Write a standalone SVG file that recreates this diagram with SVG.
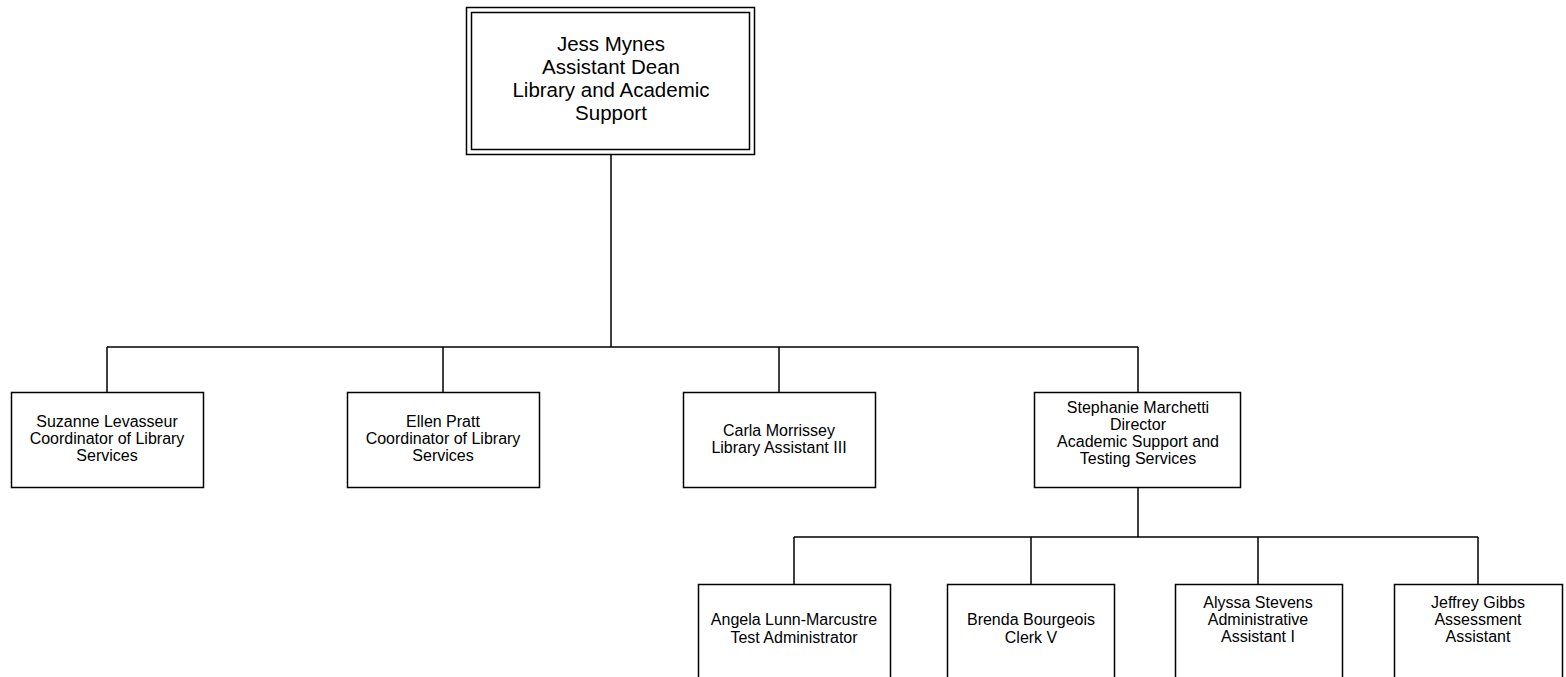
<svg xmlns="http://www.w3.org/2000/svg" width="1566" height="677" viewBox="0 0 1566 677">
<style>
.box{fill:#fff;stroke:#000;stroke-width:1.5}
.ln{fill:none;stroke:#000;stroke-width:1.5}
text{font-family:"Liberation Sans",Arial,sans-serif;font-size:16px;fill:#000;text-anchor:middle}
.big{font-size:20.5px}
</style>
<rect width="1566" height="677" fill="#fff"/>
<g id="connectors">
<path class="ln" d="M611 155V347M107 347H1138M107 347V392M443 347V392M779 347V392M1138 347V392"/>
<path class="ln" d="M1138 487V537M794 537H1478M794 537V584M1031 537V584M1258 537V584M1478 537V584"/>
</g>
<g id="n-jess">
<rect class="box" x="466.5" y="7.5" width="288" height="147"/>
<rect class="box" x="471.5" y="12.5" width="278" height="137"/>
<text class="big" x="611" y="51">Jess Mynes</text>
<text class="big" x="611" y="74">Assistant Dean</text>
<text class="big" x="611" y="97">Library and Academic</text>
<text class="big" x="611" y="120">Support</text>
</g>
<g id="n-suzanne">
<rect class="box" x="11.5" y="392.5" width="192" height="95"/>
<text x="107" y="427">Suzanne Levasseur</text>
<text x="107" y="444">Coordinator of Library</text>
<text x="107" y="461">Services</text>
</g>
<g id="n-ellen">
<rect class="box" x="347.5" y="392.5" width="192" height="95"/>
<text x="443" y="427">Ellen Pratt</text>
<text x="443" y="444">Coordinator of Library</text>
<text x="443" y="461">Services</text>
</g>
<g id="n-carla">
<rect class="box" x="683.5" y="392.5" width="192" height="95"/>
<text x="779" y="436">Carla Morrissey</text>
<text x="779" y="453">Library Assistant III</text>
</g>
<g id="n-stephanie">
<rect class="box" x="1034.5" y="392.5" width="206" height="95"/>
<text x="1138" y="413">Stephanie Marchetti</text>
<text x="1138" y="430">Director</text>
<text x="1138" y="447">Academic Support and</text>
<text x="1138" y="464">Testing Services</text>
</g>
<g id="n-angela">
<rect class="box" x="698.5" y="584.5" width="192" height="95"/>
<text x="794" y="625">Angela Lunn-Marcustre</text>
<text x="794" y="643">Test Administrator</text>
</g>
<g id="n-brenda">
<rect class="box" x="947.5" y="584.5" width="167" height="95"/>
<text x="1031" y="625">Brenda Bourgeois</text>
<text x="1031" y="643">Clerk V</text>
</g>
<g id="n-alyssa">
<rect class="box" x="1175.5" y="584.5" width="167" height="95"/>
<text x="1258" y="608">Alyssa Stevens</text>
<text x="1258" y="625">Administrative</text>
<text x="1258" y="642">Assistant I</text>
</g>
<g id="n-jeffrey">
<rect class="box" x="1394.5" y="584.5" width="168" height="95"/>
<text x="1478" y="608">Jeffrey Gibbs</text>
<text x="1478" y="625">Assessment</text>
<text x="1478" y="642">Assistant</text>
</g>
</svg>
